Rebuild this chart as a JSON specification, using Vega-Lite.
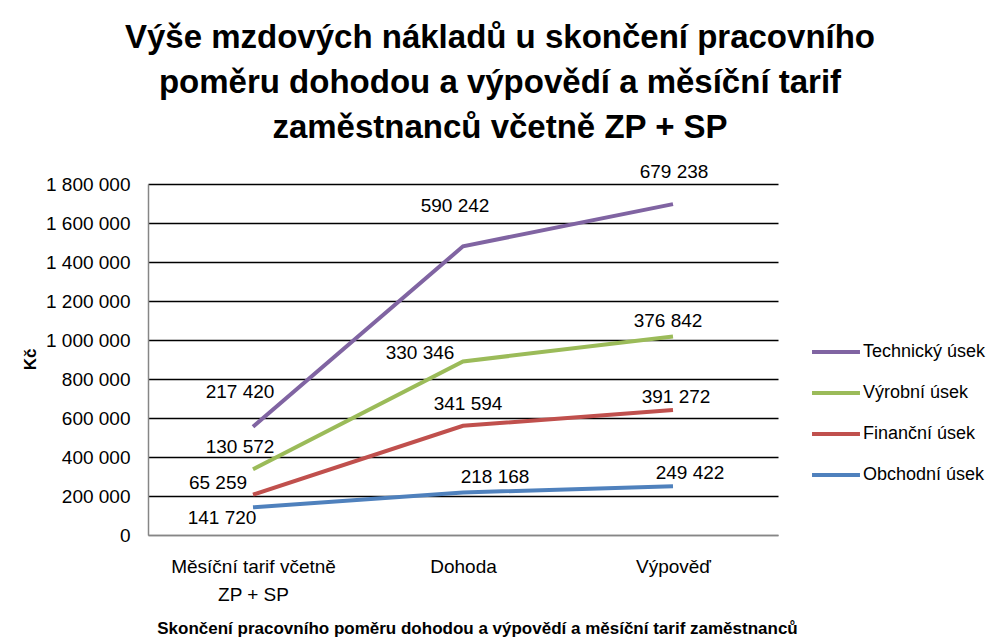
{
  "$schema": "https://vega.github.io/schema/vega-lite/v6.json",
  "autosize": {"type": "none"},
  "width": 630,
  "height": 351,
  "padding": {"left": 148, "top": 184, "right": 223, "bottom": 102},
  "background": "white",
  "config": {
    "font": "Liberation Sans",
    "view": {"stroke": null},
    "locale": {"number": {"decimal": ",", "thousands": " ", "grouping": [3], "currency": ["", " Kč"]}}
  },
  "title": {
    "text": ["Výše mzdových nákladů u skončení pracovního", "poměru dohodou a výpovědí a měsíční tarif", "zaměstnanců včetně ZP + SP"],
    "font": "Liberation Sans",
    "fontSize": 33,
    "fontWeight": "bold",
    "color": "black",
    "anchor": "middle",
    "dx": 37,
    "lineHeight": 45,
    "offset": 18
  },
  "data": {"values": [
    {"cat": "Měsíční tarif včetně ZP + SP", "s": "Obchodní úsek", "v": 141720},
    {"cat": "Dohoda", "s": "Obchodní úsek", "v": 218168},
    {"cat": "Výpověď", "s": "Obchodní úsek", "v": 249422},
    {"cat": "Měsíční tarif včetně ZP + SP", "s": "Finanční úsek", "v": 65259},
    {"cat": "Dohoda", "s": "Finanční úsek", "v": 341594},
    {"cat": "Výpověď", "s": "Finanční úsek", "v": 391272},
    {"cat": "Měsíční tarif včetně ZP + SP", "s": "Výrobní úsek", "v": 130572},
    {"cat": "Dohoda", "s": "Výrobní úsek", "v": 330346},
    {"cat": "Výpověď", "s": "Výrobní úsek", "v": 376842},
    {"cat": "Měsíční tarif včetně ZP + SP", "s": "Technický úsek", "v": 217420},
    {"cat": "Dohoda", "s": "Technický úsek", "v": 590242},
    {"cat": "Výpověď", "s": "Technický úsek", "v": 679238}
  ]},
  "transform": [
    {"calculate": "indexof(['Obchodní úsek','Finanční úsek','Výrobní úsek','Technický úsek'], datum.s)", "as": "ord"},
    {"stack": "v", "groupby": ["cat"], "sort": [{"field": "ord", "order": "ascending"}], "as": ["y0", "y1"]}
  ],
  "encoding": {
    "x": {
      "field": "cat", "type": "nominal",
      "sort": ["Měsíční tarif včetně ZP + SP", "Dohoda", "Výpověď"],
      "scale": {"type": "point", "padding": 0.5},
      "axis": {
        "title": "Skončení pracovního poměru dohodou a výpovědí a měsíční tarif zaměstnanců",
        "titleFontWeight": "bold", "titleFontSize": 17, "titleColor": "black",
        "titleX": 329, "titleY": 93, "titleBaseline": "middle", "titleAnchor": "middle",
        "labelAngle": 0, "labelFontSize": 19, "labelColor": "black", "labelPadding": 31,
        "labelLineHeight": 28, "labelBaseline": "middle",
        "labelExpr": "datum.label == 'Měsíční tarif včetně ZP + SP' ? ['Měsíční tarif včetně', 'ZP + SP'] : datum.label",
        "ticks": false, "domainColor": "#868686", "domainWidth": 1.5, "grid": false
      }
    },
    "y": {
      "field": "y1", "type": "quantitative",
      "scale": {"domain": [0, 1800000], "nice": false},
      "axis": {
        "title": "Kč", "titleFontWeight": "bold", "titleFontSize": 17, "titleColor": "black",
        "titleX": -118, "titleY": 175, "titleAngle": -90, "titleAlign": "center", "titleBaseline": "middle",
        "values": [0, 200000, 400000, 600000, 800000, 1000000, 1200000, 1400000, 1600000, 1800000],
        "format": ",d", "labelFontSize": 19, "labelColor": "black", "labelPadding": 18,
        "ticks": false, "domainColor": "#868686", "domainWidth": 1.5,
        "grid": true, "gridWidth": 1.5,
        "gridColor": {"condition": {"test": "datum.value == 0", "value": "#868686"}, "value": "black"}
      }
    }
  },
  "layer": [
    {
      "mark": {"type": "line", "strokeWidth": 4},
      "encoding": {
        "color": {
          "field": "s", "type": "nominal",
          "scale": {"domain": ["Technický úsek", "Výrobní úsek", "Finanční úsek", "Obchodní úsek"], "range": ["#8064A2", "#9BBB59", "#C0504D", "#4F81BD"]},
          "legend": {
            "title": null, "orient": "none", "legendX": 657, "legendY": 137, "padding": 5,
            "symbolType": "stroke", "symbolSize": 2300, "symbolStrokeWidth": 4,
            "labelFontSize": 18, "labelColor": "black", "labelOffset": 1, "rowPadding": 6
          }
        }
      }
    },
    {"transform": [{"filter": "datum.s == 'Technický úsek' && datum.cat == 'Měsíční tarif včetně ZP + SP'"}], "mark": {"type": "text", "fontSize": 19, "dx": -13, "dy": -35, "color": "black"}, "encoding": {"text": {"field": "v", "type": "quantitative", "format": ",d"}}},
    {"transform": [{"filter": "datum.s == 'Technický úsek' && datum.cat == 'Dohoda'"}], "mark": {"type": "text", "fontSize": 19, "dx": -8, "dy": -40, "color": "black"}, "encoding": {"text": {"field": "v", "type": "quantitative", "format": ",d"}}},
    {"transform": [{"filter": "datum.s == 'Technický úsek' && datum.cat == 'Výpověď'"}], "mark": {"type": "text", "fontSize": 19, "dx": 1, "dy": -32, "color": "black"}, "encoding": {"text": {"field": "v", "type": "quantitative", "format": ",d"}}},
    {"transform": [{"filter": "datum.s == 'Výrobní úsek' && datum.cat == 'Měsíční tarif včetně ZP + SP'"}], "mark": {"type": "text", "fontSize": 19, "dx": -13, "dy": -22, "color": "black"}, "encoding": {"text": {"field": "v", "type": "quantitative", "format": ",d"}}},
    {"transform": [{"filter": "datum.s == 'Výrobní úsek' && datum.cat == 'Dohoda'"}], "mark": {"type": "text", "fontSize": 19, "dx": -43, "dy": -8, "color": "black"}, "encoding": {"text": {"field": "v", "type": "quantitative", "format": ",d"}}},
    {"transform": [{"filter": "datum.s == 'Výrobní úsek' && datum.cat == 'Výpověď'"}], "mark": {"type": "text", "fontSize": 19, "dx": -5, "dy": -16, "color": "black"}, "encoding": {"text": {"field": "v", "type": "quantitative", "format": ",d"}}},
    {"transform": [{"filter": "datum.s == 'Finanční úsek' && datum.cat == 'Měsíční tarif včetně ZP + SP'"}], "mark": {"type": "text", "fontSize": 19, "dx": -35, "dy": -12, "color": "black"}, "encoding": {"text": {"field": "v", "type": "quantitative", "format": ",d"}}},
    {"transform": [{"filter": "datum.s == 'Finanční úsek' && datum.cat == 'Dohoda'"}], "mark": {"type": "text", "fontSize": 19, "dx": 5, "dy": -22, "color": "black"}, "encoding": {"text": {"field": "v", "type": "quantitative", "format": ",d"}}},
    {"transform": [{"filter": "datum.s == 'Finanční úsek' && datum.cat == 'Výpověď'"}], "mark": {"type": "text", "fontSize": 19, "dx": 3, "dy": -13, "color": "black"}, "encoding": {"text": {"field": "v", "type": "quantitative", "format": ",d"}}},
    {"transform": [{"filter": "datum.s == 'Obchodní úsek' && datum.cat == 'Měsíční tarif včetně ZP + SP'"}], "mark": {"type": "text", "fontSize": 19, "dx": -31, "dy": 11, "color": "black"}, "encoding": {"text": {"field": "v", "type": "quantitative", "format": ",d"}}},
    {"transform": [{"filter": "datum.s == 'Obchodní úsek' && datum.cat == 'Dohoda'"}], "mark": {"type": "text", "fontSize": 19, "dx": 32, "dy": -15, "color": "black"}, "encoding": {"text": {"field": "v", "type": "quantitative", "format": ",d"}}},
    {"transform": [{"filter": "datum.s == 'Obchodní úsek' && datum.cat == 'Výpověď'"}], "mark": {"type": "text", "fontSize": 19, "dx": 17, "dy": -13, "color": "black"}, "encoding": {"text": {"field": "v", "type": "quantitative", "format": ",d"}}}
  ]
}
